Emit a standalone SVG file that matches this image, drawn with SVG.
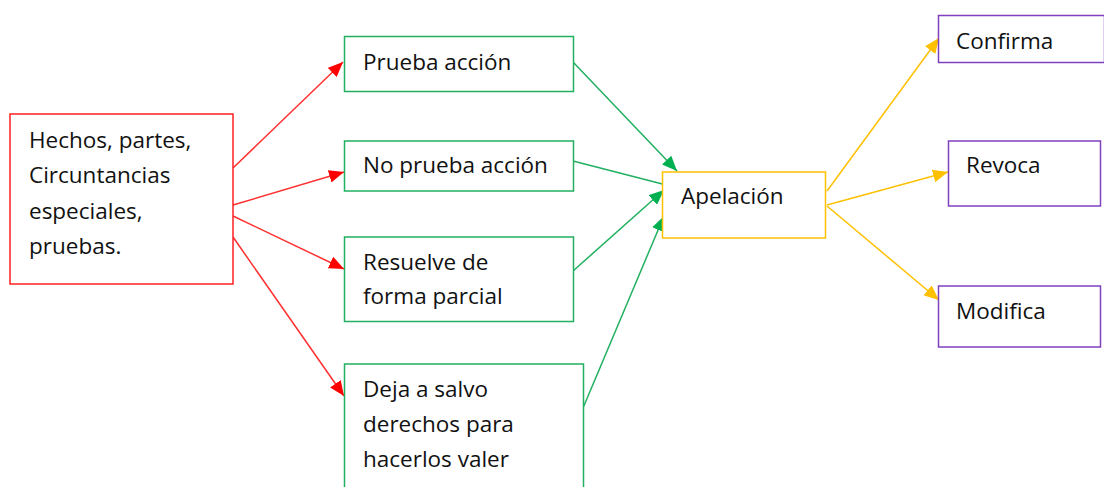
<svg xmlns="http://www.w3.org/2000/svg" width="1104" height="487" viewBox="0 0 1104 487">
<style>
text{font-family:"Open Sans","Noto Sans",sans-serif;font-size:22.5px;fill:#111}
rect{fill:#fff;stroke-width:1.5}
.r{stroke:#ff2020}.g{stroke:#20b060}.y{stroke:#ffc000}.p{stroke:#8040c0}
.c{fill:none;stroke-width:1.5}
</style>
<defs>
<marker id="mr" viewBox="0 0 14 12" refX="14" refY="6" markerWidth="15" markerHeight="13" markerUnits="userSpaceOnUse" orient="auto"><path d="M0,0 L14,6 L0,12 z" fill="#ff0000"/></marker>
<marker id="mg" viewBox="0 0 14 12" refX="14" refY="6" markerWidth="15" markerHeight="13" markerUnits="userSpaceOnUse" orient="auto"><path d="M0,0 L14,6 L0,12 z" fill="#00b050"/></marker>
<marker id="my" viewBox="0 0 14 12" refX="14" refY="6" markerWidth="15" markerHeight="13" markerUnits="userSpaceOnUse" orient="auto"><path d="M0,0 L14,6 L0,12 z" fill="#ffc000"/></marker>
</defs>
<g id="connectors">
<g marker-end="url(#mr)">
<line x1="233" y1="168" x2="343" y2="62" class="c" stroke="#ff3030"/>
<line x1="233" y1="205" x2="344" y2="172" class="c" stroke="#ff3030"/>
<line x1="233" y1="216" x2="344" y2="269" class="c" stroke="#ff3030"/>
<line x1="233" y1="237" x2="344" y2="396" class="c" stroke="#ff3030"/>
</g>
<g marker-end="url(#mg)">
<line x1="573" y1="62" x2="677" y2="171" class="c" stroke="#20b060"/>
<line x1="573" y1="161" x2="678" y2="188" class="c" stroke="#20b060"/>
<line x1="573" y1="271" x2="664" y2="190" class="c" stroke="#20b060"/>
<line x1="583" y1="408" x2="664" y2="216" class="c" stroke="#20b060"/>
</g>
<g marker-end="url(#my)">
<line x1="827" y1="191" x2="939" y2="38" class="c" stroke="#ffc000"/>
<line x1="827" y1="205" x2="948" y2="172" class="c" stroke="#ffc000"/>
<line x1="827" y1="206" x2="939" y2="300" class="c" stroke="#ffc000"/>
</g>
</g>
<g id="n-hechos"><rect class="r" x="10" y="114" width="223" height="170"/>
<text x="29" y="148">Hechos, partes,</text><text x="29" y="183">Circuntancias</text><text x="29" y="219">especiales,</text><text x="29" y="254">pruebas.</text></g>
<g id="n-prueba"><rect class="g" x="344.5" y="36.5" width="229" height="55"/><text x="363" y="70">Prueba acción</text></g>
<g id="n-noprueba"><rect class="g" x="344.5" y="141" width="229" height="50"/><text x="363" y="173">No prueba acción</text></g>
<g id="n-resuelve"><rect class="g" x="344.5" y="237" width="229" height="84.5"/><text x="363" y="270">Resuelve de</text><text x="363" y="304">forma parcial</text></g>
<g id="n-deja"><rect class="g" x="344.5" y="364" width="239" height="130"/><text x="363" y="397">Deja a salvo</text><text x="363" y="432">derechos para</text><text x="363" y="467">hacerlos valer</text></g>
<g id="n-apelacion"><rect class="y" x="662.5" y="172" width="163" height="66"/><text x="681" y="204">Apelación</text></g>
<g id="n-confirma"><rect class="p" x="938.5" y="15.5" width="166" height="47"/><text x="956" y="49">Confirma</text></g>
<g id="n-revoca"><rect class="p" x="948.5" y="141" width="152" height="65"/><text x="966" y="173">Revoca</text></g>
<g id="n-modifica"><rect class="p" x="938.5" y="286" width="162" height="61"/><text x="956" y="319">Modifica</text></g>
</svg>
